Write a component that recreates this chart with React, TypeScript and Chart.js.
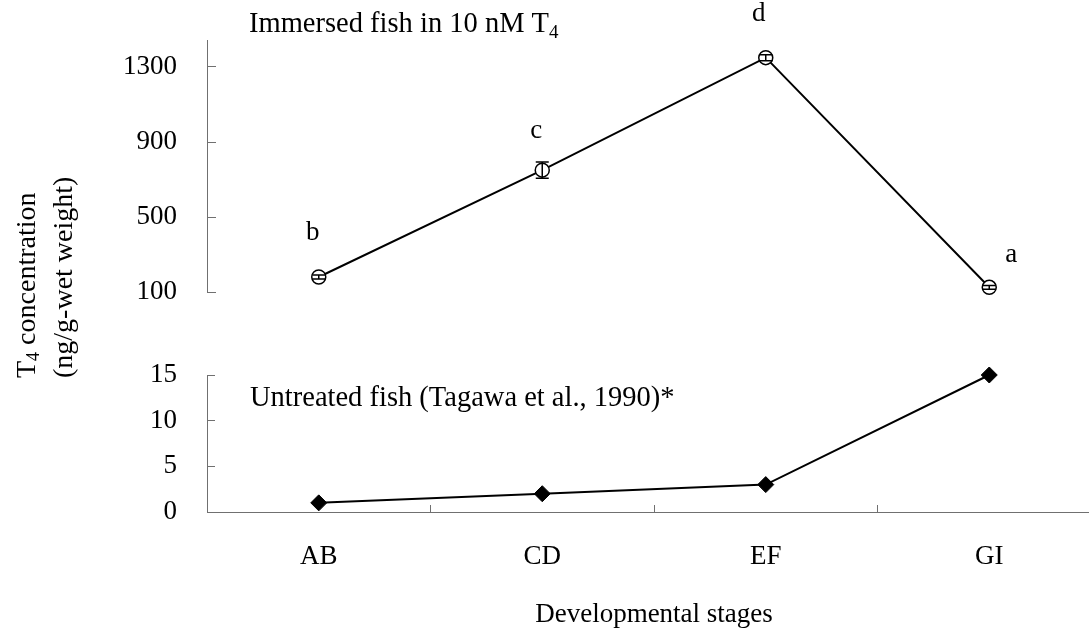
import React, { useEffect, useRef } from "react";
import { Chart, registerables } from "chart.js";

Chart.register(...registerables);

// ---- data ----
const stages = ["AB", "CD", "EF", "GI"];
const immersedT4 = [180, 750, 1350, 125];
const immersedErr = [11, 43, 16, 10];
const immersedLetters = ["b", "c", "d", "a"];
const untreatedT4 = [1, 2, 3, 15];
const topTicks = [100, 500, 900, 1300];
const bottomTicks = [0, 5, 10, 15];

const W = 1110;
const H = 637;
const SERIF = "'Liberation Serif', 'Times New Roman', serif";
const AXIS = "#707070";

function drawSubText(ctx: CanvasRenderingContext2D, parts: [string, boolean][], x: number, y: number, size: number) {
  let cx = x;
  for (const [t, sub] of parts) {
    const s = sub ? Math.round(size * 0.65) : size;
    ctx.font = `${s}px ${SERIF}`;
    ctx.fillText(t, cx, sub ? y + size * 0.22 : y);
    cx += ctx.measureText(t).width;
  }
}

const topPlugin = {
  id: "topDecor",
  afterDatasetsDraw(chart: any) {
    const ctx = chart.ctx as CanvasRenderingContext2D;
    const ys = chart.scales.y;
    const meta = chart.getDatasetMeta(0);
    ctx.save();
    ctx.strokeStyle = "#000";
    ctx.lineWidth = 1.5;
    meta.data.forEach((pt: any, i: number) => {
      const v = immersedT4[i];
      const e = immersedErr[i];
      const y1 = ys.getPixelForValue(v + e);
      const y2 = ys.getPixelForValue(v - e);
      const x = pt.x;
      const hw = 6.5;
      ctx.beginPath();
      ctx.moveTo(x, y1);
      ctx.lineTo(x, y2);
      ctx.moveTo(x - hw, y1);
      ctx.lineTo(x + hw, y1);
      ctx.moveTo(x - hw, y2);
      ctx.lineTo(x + hw, y2);
      ctx.stroke();
    });
    ctx.restore();
  },
  afterDraw(chart: any) {
    const ctx = chart.ctx as CanvasRenderingContext2D;
    const area = chart.chartArea;
    const meta = chart.getDatasetMeta(0);
    const letterOffsets = [[-6, -44], [-6, -39], [-7, -44], [22, -32]];
    ctx.save();
    ctx.fillStyle = "#000";
    ctx.textAlign = "center";
    ctx.textBaseline = "middle";
    ctx.font = `27px ${SERIF}`;
    meta.data.forEach((pt: any, i: number) => {
      ctx.fillText(immersedLetters[i], pt.x + letterOffsets[i][0], pt.y + letterOffsets[i][1]);
    });
    // panel caption
    ctx.textAlign = "left";
    ctx.textBaseline = "alphabetic";
    drawSubText(ctx, [["Immersed fish in 10 nM T", false], ["4", true]], area.left + 42, area.top - 8, 28.5);
    // y axis title (rotated)
    ctx.save();
    ctx.translate(28, 378);
    ctx.rotate(-Math.PI / 2);
    ctx.textBaseline = "middle";
    drawSubText(ctx, [["T", false], ["4", true], [" concentration", false]], 0, 0, 28);
    ctx.restore();
    ctx.save();
    ctx.translate(65, 378);
    ctx.rotate(-Math.PI / 2);
    ctx.textBaseline = "middle";
    ctx.font = `28px ${SERIF}`;
    ctx.fillText("(ng/g-wet weight)", 0, 0);
    ctx.restore();
    ctx.restore();
  },
};

const bottomPlugin = {
  id: "bottomDecor",
  afterDraw(chart: any) {
    const ctx = chart.ctx as CanvasRenderingContext2D;
    const area = chart.chartArea;
    ctx.save();
    ctx.fillStyle = "#000";
    ctx.textAlign = "left";
    ctx.textBaseline = "alphabetic";
    ctx.font = `28.5px ${SERIF}`;
    ctx.fillText("Untreated fish (Tagawa et al., 1990)*", area.left + 43, area.top + 31);
    ctx.restore();
  },
};

export default function App() {
  const topRef = useRef<HTMLCanvasElement>(null);
  const botRef = useRef<HTMLCanvasElement>(null);

  useEffect(() => {
    const font = { family: SERIF, size: 27 };
    const fmt = (v: any) => String(v);
    const fitY = (s: any) => {
      s.width = 207;
      s.paddingTop = 0;
      s.paddingBottom = 0;
    };
    const top = new Chart(topRef.current!, {
      type: "line",
      data: {
        labels: stages,
        datasets: [
          {
            data: immersedT4,
            borderColor: "#000",
            borderWidth: 2,
            pointStyle: "circle",
            pointRadius: 7,
            pointBorderWidth: 1.5,
            pointBorderColor: "#000",
            pointBackgroundColor: "#fff",
            clip: false,
          } as any,
        ],
      },
      options: {
        responsive: false,
        animation: false,
        events: [],
        layout: { padding: { top: 40, bottom: H - 292, left: 0, right: W - 1101 } },
        plugins: { legend: { display: false }, tooltip: { enabled: false } },
        scales: {
          x: { type: "category", offset: true, display: false },
          y: {
            min: 100,
            max: 1444,
            bounds: "data",
            afterFit: fitY,
            afterBuildTicks: (s: any) => {
              s.ticks = topTicks.map((v) => ({ value: v }));
            },
            border: { color: AXIS, width: 1 },
            grid: { drawOnChartArea: false, tickLength: -9, color: AXIS, lineWidth: 1 },
            ticks: { font, color: "#000", padding: 39, callback: fmt },
          },
        },
      } as any,
      plugins: [topPlugin],
    });

    const bot = new Chart(botRef.current!, {
      type: "line",
      data: {
        labels: stages,
        datasets: [
          {
            data: untreatedT4,
            borderColor: "#000",
            borderWidth: 2,
            pointStyle: "rectRot",
            pointRadius: 8,
            pointBorderWidth: 1,
            pointBorderColor: "#000",
            pointBackgroundColor: "#000",
            clip: false,
          } as any,
        ],
      },
      options: {
        responsive: false,
        animation: false,
        events: [],
        layout: { padding: { top: 375, bottom: 6, left: 0, right: W - 1101 } },
        plugins: { legend: { display: false }, tooltip: { enabled: false } },
        scales: {
          x: {
            type: "category",
            offset: true,
            afterFit: (s: any) => {
              s.height = H - 6 - 512;
            },
            border: { color: AXIS, width: 1 },
            grid: { offset: true, drawOnChartArea: false, tickLength: -7, color: AXIS, lineWidth: 1 },
            ticks: { font, color: "#000", padding: 36 },
            title: {
              display: true,
              text: "Developmental stages",
              font: { family: SERIF, size: 27 },
              color: "#000",
              padding: 0,
            },
          },
          y: {
            min: 0,
            max: 15,
            bounds: "data",
            afterFit: fitY,
            afterBuildTicks: (s: any) => {
              s.ticks = bottomTicks.map((v) => ({ value: v }));
            },
            border: { color: AXIS, width: 1 },
            grid: { drawOnChartArea: false, tickLength: -8, color: AXIS, lineWidth: 1 },
            ticks: { font, color: "#000", padding: 38, callback: fmt },
          },
        },
      } as any,
      plugins: [bottomPlugin],
    });

    return () => {
      top.destroy();
      bot.destroy();
    };
  }, []);

  return (
    <div
      style={{
        position: "fixed",
        left: 0,
        top: 0,
        width: 1089,
        height: 637,
        overflow: "hidden",
        background: "#fff",
      }}
    >
      <canvas ref={topRef} width={W} height={H} style={{ position: "absolute", left: 0, top: 0 }} />
      <canvas ref={botRef} width={W} height={H} style={{ position: "absolute", left: 0, top: 0 }} />
    </div>
  );
}
